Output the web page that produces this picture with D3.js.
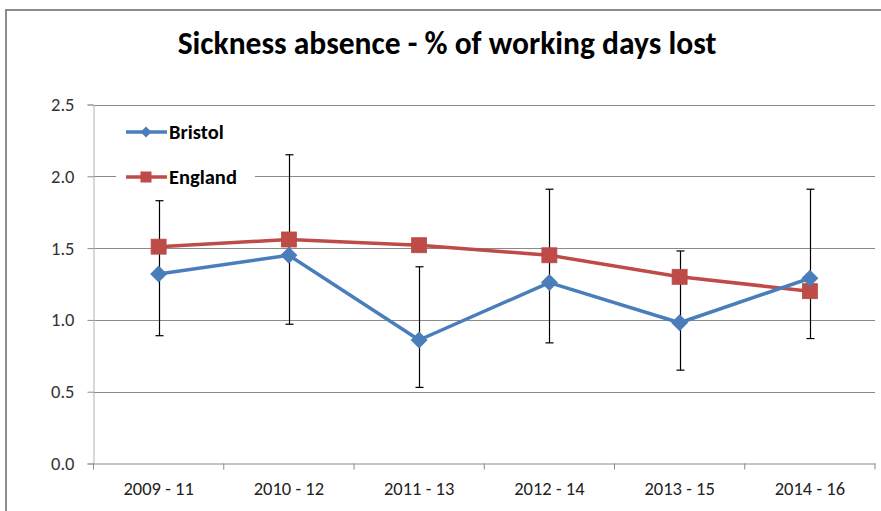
<!DOCTYPE html>
<html><head><meta charset="utf-8">
<script src="https://cdn.jsdelivr.net/npm/d3@7"></script>
<style>body{margin:0;background:#fff}svg{display:block}</style>
</head><body>
<svg id="c" width="881" height="511"></svg>
<script>
const categories = ["2009 - 11","2010 - 12","2011 - 13","2012 - 14","2013 - 15","2014 - 16"];
const bristol = [1.32, 1.45, 0.86, 1.26, 0.98, 1.29];
const england = [1.51, 1.56, 1.52, 1.45, 1.30, 1.20];
const bristolLower = [0.89, 0.97, 0.53, 0.84, 0.65, 0.87];
const bristolUpper = [1.83, 2.15, 1.37, 1.91, 1.48, 1.91];
const yTicks = [0, 0.5, 1.0, 1.5, 2.0, 2.5];
const title = "Sickness absence - % of working days lost";

const svg = d3.select("#c");
const font = "Carlito, Calibri, Lato, 'Open Sans', sans-serif";
const L = 93.5, R = 875, T = 104.5, B = 463.5;
const x = d3.scaleBand().domain(categories).range([L, R]);
const y = d3.scaleLinear().domain([0, 2.5]).range([B, T]);
const cx = d => x(d) + x.bandwidth() / 2;

// outer border
svg.append("path").attr("d", "M6,520 V10 H890").attr("fill","none").attr("stroke","#8c8c8c").attr("stroke-width",2);

// title
const t = svg.append("text").attr("x", 447).attr("y", 54).attr("text-anchor","middle")
  .attr("font-family", font).attr("font-weight","bold").attr("font-size", 27).attr("fill","#000").text(title);
const tw = t.node().getComputedTextLength();
t.attr("font-size", 27 * 539 / tw);

// gridlines
svg.append("g").selectAll("line").data(yTicks.filter(v => v > 0)).join("line")
  .attr("x1", L).attr("x2", R).attr("y1", d => Math.round(y(d)) + 0.5).attr("y2", d => Math.round(y(d)) + 0.5)
  .attr("stroke", "#8a8a8a").attr("stroke-width", 1);

// y axis
const ya = svg.append("g").attr("transform", `translate(${L},0)`)
  .call(d3.axisLeft(y).tickValues(yTicks).tickFormat(d3.format(".1f")).tickSize(6).tickPadding(13));
ya.select(".domain").attr("stroke", "#b3b3b3");
ya.selectAll(".tick line").attr("stroke", "#8a8a8a");
ya.selectAll("text").attr("font-family", font).attr("font-size", 18.5).attr("fill", "#333");

// x axis
const xa = svg.append("g").attr("transform", `translate(0,${B})`)
  .call(d3.axisBottom(x).tickSize(0).tickPadding(18));
xa.select(".domain").attr("stroke", "#8a8a8a");
xa.selectAll("text").attr("font-family", font).attr("font-size", 18.5).attr("fill", "#222");
svg.append("g").selectAll("line").data(d3.range(categories.length + 1)).join("line")
  .attr("x1", i => L + i * x.step()).attr("x2", i => L + i * x.step())
  .attr("y1", B).attr("y2", B + 6).attr("stroke", "#8a8a8a");

// error bars
const eb = svg.append("g").attr("stroke", "#000").attr("stroke-width", 1.2);
categories.forEach((c, i) => {
  const xx = Math.round(cx(c)) + 0.5;
  eb.append("line").attr("x1", xx).attr("x2", xx).attr("y1", y(bristolUpper[i])).attr("y2", y(bristolLower[i]));
  eb.append("line").attr("x1", xx - 4).attr("x2", xx + 4).attr("y1", y(bristolUpper[i])).attr("y2", y(bristolUpper[i]));
  eb.append("line").attr("x1", xx - 4).attr("x2", xx + 4).attr("y1", y(bristolLower[i])).attr("y2", y(bristolLower[i]));
});

const blue = "#4a7ebb", red = "#be4b48";
const line = d3.line().x((d, i) => cx(categories[i])).y(d => y(d));

// England
svg.append("path").datum(england).attr("d", line).attr("fill","none").attr("stroke", red).attr("stroke-width", 3.5).attr("stroke-linejoin","round");
svg.append("g").selectAll("rect").data(england).join("rect")
  .attr("x", (d, i) => cx(categories[i]) - 7.5).attr("y", d => y(d) - 7.5).attr("width", 15).attr("height", 15)
  .attr("fill", red).attr("stroke", "#b84a47").attr("stroke-width", 0.8);

// Bristol
svg.append("path").datum(bristol).attr("d", line).attr("fill","none").attr("stroke", blue).attr("stroke-width", 3.5).attr("stroke-linejoin","round");
const diamond = s => `M0,${-s}L${s},0L0,${s}L${-s},0Z`;
svg.append("g").selectAll("path").data(bristol).join("path")
  .attr("transform", (d, i) => `translate(${cx(categories[i])},${y(d)})`)
  .attr("d", diamond(8.5)).attr("fill", blue);

// legend
const lg = svg.append("g");
lg.append("rect").attr("x", 116).attr("y", 110).attr("width", 139).attr("height", 88).attr("fill", "#fff");
const items = [{name: "Bristol", color: blue, yy: 132}, {name: "England", color: red, yy: 177}];
items.forEach((it, i) => {
  lg.append("line").attr("x1", 126).attr("x2", 167).attr("y1", it.yy).attr("y2", it.yy).attr("stroke", it.color).attr("stroke-width", 3.5);
  if (i === 0) lg.append("path").attr("transform", `translate(146,${it.yy})`).attr("d", diamond(5.5)).attr("fill", it.color);
  else lg.append("rect").attr("x", 140.5).attr("y", it.yy - 5.5).attr("width", 11).attr("height", 11).attr("fill", it.color);
  lg.append("text").attr("x", 169).attr("y", it.yy + 6.5).attr("font-family", font).attr("font-weight", "bold")
    .attr("font-size", 20.5).attr("fill", "#000").text(it.name);
});
</script>
</body></html>
